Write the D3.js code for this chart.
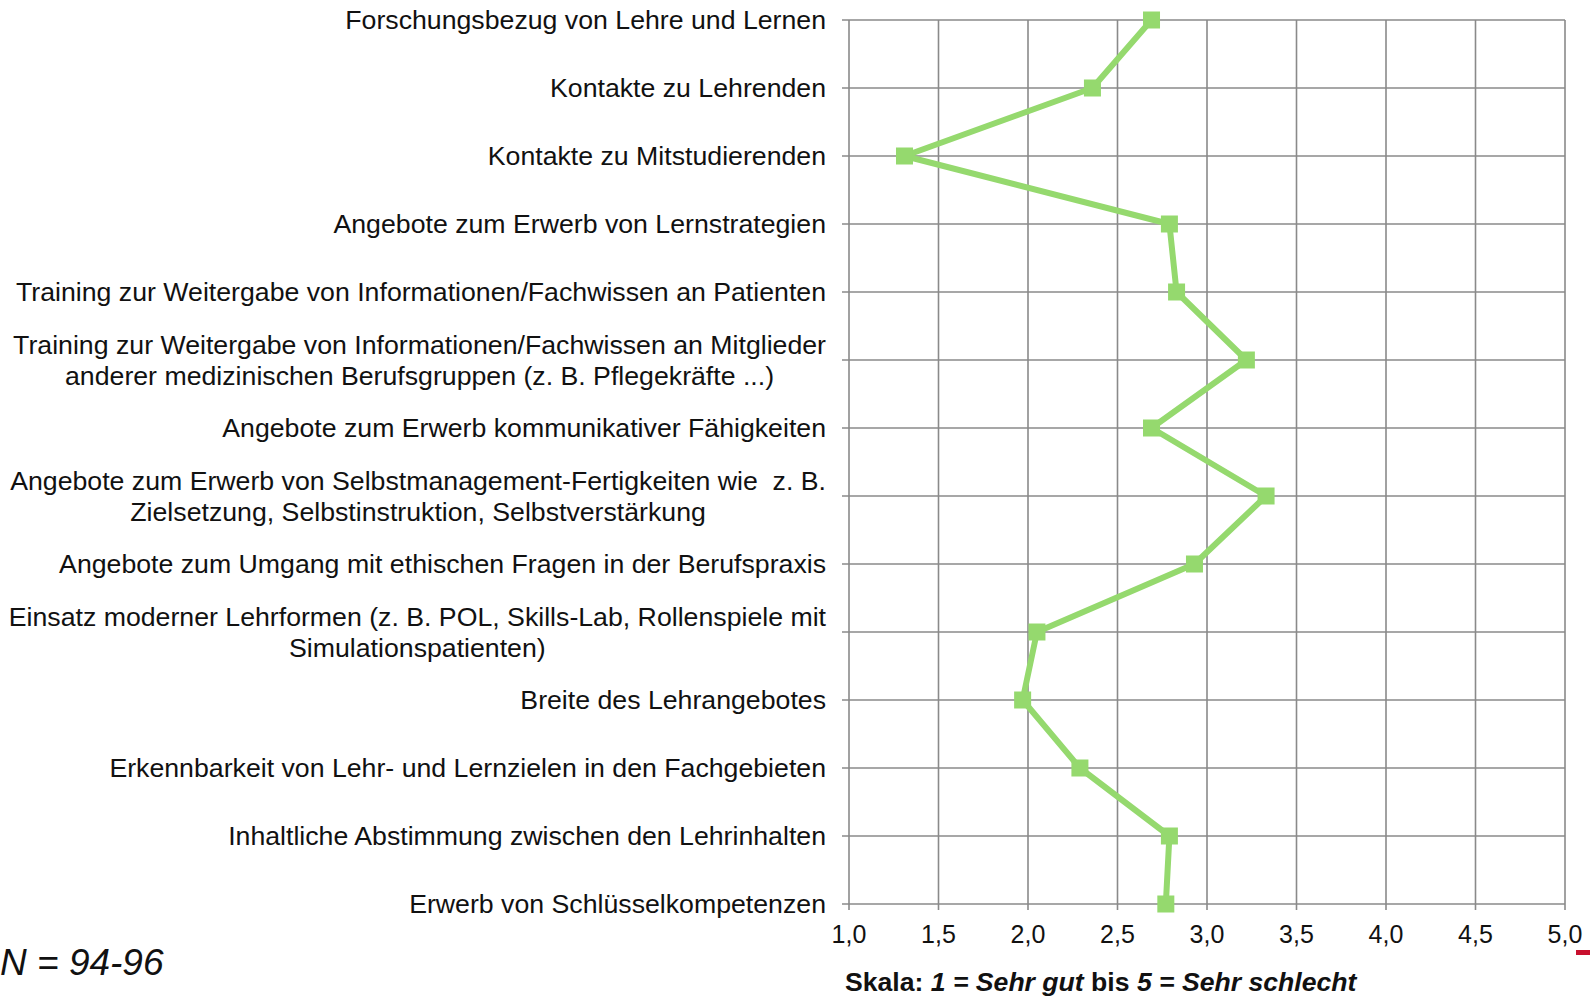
<!DOCTYPE html>
<html>
<head>
<meta charset="utf-8">
<script src="https://cdn.jsdelivr.net/npm/d3@7"></script>
<style>
  body { margin: 0; background: #fff; }
  svg { display: block; font-family: "Liberation Sans", Arial, sans-serif; }
  .cat-label { font-size: 26.7px; fill: #111; white-space: pre; }
  .tick-label { font-size: 25px; fill: #111; }
</style>
</head>
<body>
<svg id="chart" width="1590" height="996"></svg>
<script>
// Kategorien (von oben nach unten), Zeilen durch "\n" getrennt.
const categories = [
    "Forschungsbezug von Lehre und Lernen",
    "Kontakte zu Lehrenden",
    "Kontakte zu Mitstudierenden",
    "Angebote zum Erwerb von Lernstrategien",
    "Training zur Weitergabe von Informationen/Fachwissen an Patienten",
    "Training zur Weitergabe von Informationen/Fachwissen an Mitglieder\nanderer medizinischen Berufsgruppen (z. B. Pflegekräfte ...)",
    "Angebote zum Erwerb kommunikativer Fähigkeiten",
    "Angebote zum Erwerb von Selbstmanagement-Fertigkeiten wie  z. B.\nZielsetzung, Selbstinstruktion, Selbstverstärkung",
    "Angebote zum Umgang mit ethischen Fragen in der Berufspraxis",
    "Einsatz moderner Lehrformen (z. B. POL, Skills-Lab, Rollenspiele mit\nSimulationspatienten)",
    "Breite des Lehrangebotes",
    "Erkennbarkeit von Lehr- und Lernzielen in den Fachgebieten",
    "Inhaltliche Abstimmung zwischen den Lehrinhalten",
    "Erwerb von Schlüsselkompetenzen"
];

// Mittelwerte (1 = Sehr gut, 5 = Sehr schlecht).
const values = [2.69, 2.36, 1.31, 2.79, 2.83, 3.22, 2.69, 3.33, 2.93, 2.05, 1.97, 2.29, 2.79, 2.77];

const xTicks = [1.0, 1.5, 2.0, 2.5, 3.0, 3.5, 4.0, 4.5, 5.0];

const config = {
    left: 849,
    right: 1565,
    top: 20,
    bottom: 904,
    labelRight: 826,
    lineHeight: 31,
    green: "#95d96e",
    grid: "#8a8a8a"
};

const svg = d3.select("#chart");

const x = d3.scaleLinear().domain([1, 5]).range([config.left, config.right]);
const y = d3.scalePoint().domain(categories).range([config.top, config.bottom]);

// Gitter: vertikale Linien je Tick.
svg.append("g")
    .selectAll("line")
    .data(xTicks)
    .enter()
    .append("line")
    .attr("x1", d => x(d))
    .attr("x2", d => x(d))
    .attr("y1", config.top)
    .attr("y2", config.bottom + 6)
    .attr("stroke", config.grid)
    .attr("stroke-width", 1.6);

// Horizontale Linien je Kategorie (mit kleinem Tick links).
svg.append("g")
    .selectAll("line")
    .data(categories)
    .enter()
    .append("line")
    .attr("x1", config.left - 7)
    .attr("x2", config.right)
    .attr("y1", d => y(d))
    .attr("y2", d => y(d))
    .attr("stroke", config.grid)
    .attr("stroke-width", 1.6);

// Beschriftung der x-Achse.
svg.append("g")
    .selectAll("text")
    .data(xTicks)
    .enter()
    .append("text")
    .attr("class", "tick-label")
    .attr("x", d => x(d))
    .attr("y", 943)
    .attr("text-anchor", "middle")
    .text(d => d3.format(".1f")(d).replace(".", ","));

// Kategorienbeschriftung: einzeilig rechtsbuendig, mehrzeilig zentriert.
const labels = svg.append("g")
    .selectAll("text")
    .data(categories)
    .enter()
    .append("text")
    .attr("class", "cat-label");

labels.each(function(d) {
    const lines = d.split("\n");
    const t = d3.select(this);
    const spans = t.selectAll("tspan")
        .data(lines)
        .enter()
        .append("tspan")
        .text(l => l);

    if (lines.length === 1) {
        t.attr("text-anchor", "end")
            .attr("x", config.labelRight)
            .attr("y", y(d) + 9);
        spans.attr("x", config.labelRight);
        return;
    }

    let widest = 0;
    spans.each(function() {
        widest = Math.max(widest, this.getComputedTextLength());
    });
    const cx = config.labelRight - widest / 2;
    const y0 = y(d) - config.lineHeight / 2 + 9;
    t.attr("text-anchor", "middle");
    spans.attr("x", cx)
        .attr("y", (_, i) => y0 + i * config.lineHeight);
});

// Datenlinie.
const line = d3.line()
    .x((d, i) => x(d))
    .y((d, i) => y(categories[i]));

svg.append("path")
    .datum(values)
    .attr("d", line)
    .attr("fill", "none")
    .attr("stroke", config.green)
    .attr("stroke-width", 6)
    .attr("stroke-linejoin", "round");

// Quadratische Marker.
const size = 17;
svg.append("g")
    .selectAll("rect")
    .data(values)
    .enter()
    .append("rect")
    .attr("x", d => x(d) - size / 2)
    .attr("y", (d, i) => y(categories[i]) - size / 2)
    .attr("width", size)
    .attr("height", size)
    .attr("fill", config.green);

// Stichprobengroesse.
svg.append("text")
    .attr("x", 0)
    .attr("y", 975)
    .attr("font-size", 37)
    .attr("font-style", "italic")
    .attr("fill", "#111")
    .text("N = 94-96");

// Skalenhinweis.
const scale = svg.append("text")
    .attr("x", 845)
    .attr("y", 991)
    .attr("font-size", 26.6)
    .attr("font-weight", "bold")
    .attr("fill", "#111")
    .style("white-space", "pre");
scale.append("tspan").text("Skala: ");
scale.append("tspan").attr("font-style", "italic").text("1 = Sehr gut");
scale.append("tspan").text(" bis ");
scale.append("tspan").attr("font-style", "italic").text("5 = Sehr schlecht");

// Kleine rote Markierung rechts unten.
svg.append("rect")
    .attr("x", 1576)
    .attr("y", 950)
    .attr("width", 14)
    .attr("height", 5)
    .attr("fill", "#c8102e");
</script>
</body>
</html>
